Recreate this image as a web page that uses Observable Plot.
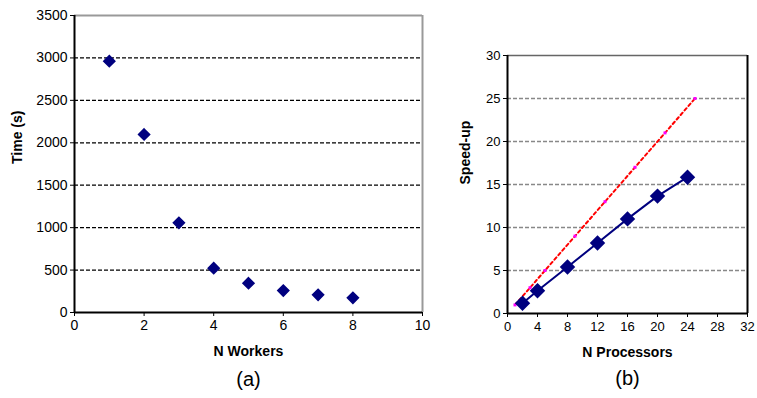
<!DOCTYPE html>
<html>
<head>
<meta charset="utf-8">
<script src="https://cdn.jsdelivr.net/npm/d3@7"></script>
<script src="https://cdn.jsdelivr.net/npm/@observablehq/plot@0.6"></script>
<style>
  html, body { margin: 0; padding: 0; background: #fff; }
  #wrap { position: relative; width: 757px; height: 398px; overflow: hidden; }
  #wrap > div, #wrap > svg { position: absolute; top: 0; }
</style>
</head>
<body>
<div id="wrap"></div>
<script>
// ---- Data (a) ----
const workers = [1, 2, 3, 4, 5, 6, 7, 8];
const timeSec = [2962, 2098, 1057, 522, 345, 258, 208, 173];
const timeTicks = [0, 500, 1000, 1500, 2000, 2500, 3000, 3500];
const timeGrid = [500, 1000, 1500, 2000, 2500, 3000];
const workerTicks = [0, 2, 4, 6, 8, 10];

// ---- Data (b) ----
const processors = [2, 4, 8, 12, 16, 20, 24];
const speedup = [1.2, 2.65, 5.4, 8.2, 11.0, 13.65, 15.85];
const idealProcs = [1, 3, 5, 9, 13, 17, 21, 25];
const idealSpeedup = [1, 3, 5, 9, 13, 17, 21, 25];
const speedTicks = [0, 5, 10, 15, 20, 25, 30];
const speedGrid = [5, 10, 15, 20, 25];
const procTicks = [0, 4, 8, 12, 16, 20, 24, 28, 32];

const navy = "#00007f";
const font = "'Liberation Sans', Arial, sans-serif";

const tableA = workers.map((w, i) => ({w, t: timeSec[i]}));
const tableB = processors.map((p, i) => ({p, s: speedup[i]}));
const tableIdeal = idealProcs.map((p, i) => ({p, s: idealSpeedup[i]}));

const plotA = Plot.plot({
  width: 440, height: 398,
  marginLeft: 74, marginRight: 18, marginTop: 15, marginBottom: 86,
  style: {fontFamily: font, fontSize: "14px", color: "#000", background: "transparent"},
  x: {domain: [0, 10]},
  y: {domain: [0, 3500]},
  marks: [
    Plot.ruleY(timeGrid, {stroke: "#000", strokeWidth: 1.3, strokeDasharray: "4,2"}),
    Plot.ruleY([3500], {stroke: "#999", strokeWidth: 2}),
    Plot.ruleX([10], {stroke: "#999", strokeWidth: 2}),
    Plot.axisY({ticks: timeTicks, tickSize: 4, tickPadding: 3, label: null, fontSize: 14, tickFormat: d => String(d)}),
    Plot.axisX({ticks: workerTicks, tickSize: 4, tickPadding: 4, label: null, fontSize: 14}),
    Plot.ruleX([0], {stroke: "#000", strokeWidth: 2}),
    Plot.ruleY([0], {stroke: "#000", strokeWidth: 2}),
    Plot.dot(tableA, {x: "w", y: "t", symbol: "diamond2", r: 5, fill: navy, stroke: navy}),
    Plot.text(["N Workers"], {text: d => d, frameAnchor: "bottom", dy: 43, fontWeight: "bold", fontSize: 14}),
    Plot.text(["(a)"], {text: d => d, frameAnchor: "bottom", dy: 73, fontSize: 20}),
    Plot.text(["Time (s)"], {text: d => d, frameAnchor: "left", dx: -57, rotate: -90, fontWeight: "bold", fontSize: 14})
  ]
});
plotA.style.left = "0px";

const plotB = Plot.plot({
  width: 317, height: 398,
  marginLeft: 67, marginRight: 10, marginTop: 55, marginBottom: 85,
  style: {fontFamily: font, fontSize: "13px", color: "#000", background: "transparent"},
  x: {domain: [0, 32]},
  y: {domain: [0, 30]},
  marks: [
    Plot.ruleY(speedGrid, {stroke: "#888", strokeWidth: 1.3, strokeDasharray: "4,2"}),
    Plot.ruleY([30], {stroke: "#666", strokeWidth: 1.5}),
    Plot.ruleX([32], {stroke: "#000", strokeWidth: 2}),
    Plot.axisY({ticks: speedTicks, tickSize: 4, tickPadding: 3, label: null, fontSize: 13}),
    Plot.axisX({ticks: procTicks, tickSize: 4, tickPadding: 4, label: null, fontSize: 13}),
    Plot.ruleX([0], {stroke: "#000", strokeWidth: 2}),
    Plot.ruleY([0], {stroke: "#000", strokeWidth: 2}),
    Plot.line(tableIdeal, {x: "p", y: "s", stroke: "#ff0000", strokeWidth: 2, strokeDasharray: "3,3"}),
    Plot.dot(tableIdeal, {x: "p", y: "s", symbol: "square", r: 1.7, fill: "#ff00ff", stroke: "none"}),
    Plot.line(tableB, {x: "p", y: "s", stroke: navy, strokeWidth: 2}),
    Plot.dot(tableB, {x: "p", y: "s", symbol: "diamond2", r: 6, fill: navy, stroke: navy}),
    Plot.text(["N Processors"], {text: d => d, frameAnchor: "bottom", dy: 43, fontWeight: "bold", fontSize: 14}),
    Plot.text(["(b)"], {text: d => d, frameAnchor: "bottom", dy: 71, fontSize: 20}),
    Plot.text(["Speed-up"], {text: d => d, frameAnchor: "left", dx: -42, rotate: -90, fontWeight: "bold", fontSize: 14})
  ]
});
plotB.style.left = "440px";

document.getElementById("wrap").append(plotA, plotB);
</script>
</body>
</html>
